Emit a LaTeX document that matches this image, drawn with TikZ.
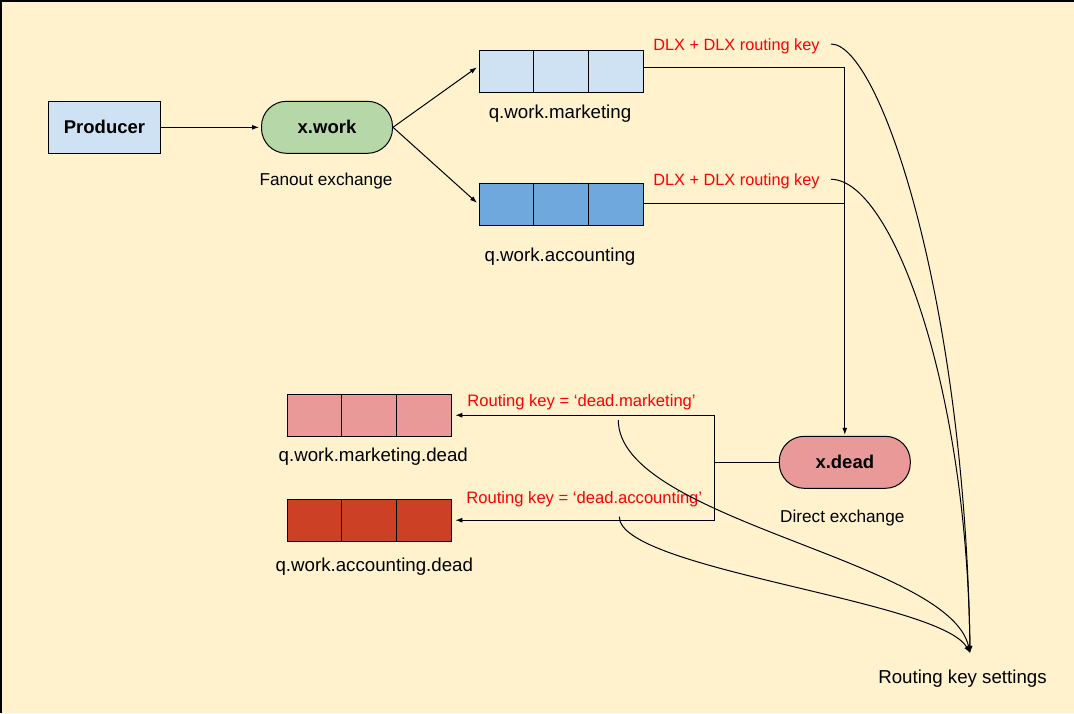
\documentclass[tikz,border=0pt]{standalone}
\usepackage{fontspec}
\setmainfont{Liberation Sans}
\usetikzlibrary{arrows.meta,calc}

\definecolor{bgyellow}{HTML}{FFF2CC}
\definecolor{lightblue}{HTML}{CFE2F3}
\definecolor{midblue}{HTML}{6FA8DC}
\definecolor{lightgreen}{HTML}{B6D7A8}
\definecolor{lightred}{HTML}{EA9999}
\definecolor{darkred}{HTML}{CC4125}
\definecolor{dlxred}{HTML}{FF0000}

\begin{document}
\begin{tikzpicture}[x=1pt, y=-1pt, line width=1pt,
    >={Latex[length=7pt,width=5pt]},
    box/.style={draw, fill=lightblue, minimum width=112pt, minimum height=52pt,
      inner sep=0pt, font=\fontsize{18.5}{22}\selectfont\bfseries},
    exch/.style={draw, rounded corners=25pt, minimum width=131pt, minimum height=52pt,
      inner sep=0pt, font=\fontsize{18.5}{22}\selectfont\bfseries},
    queue/.style={draw, minimum width=164pt, minimum height=42pt, inner sep=0pt},
    lbl/.style={inner sep=0pt, font=\fontsize{18.7}{22}\selectfont},
    exlbl/.style={inner sep=0pt, font=\fontsize{17.2}{21}\selectfont},
    redlbl/.style={inner sep=0pt, text=dlxred, font=\fontsize{16.3}{20}\selectfont}]

    % --- Canvas ---
    \useasboundingbox (0,0) rectangle (1074,713);
    \fill[bgyellow] (0,0) rectangle (1074,713);
    \draw[line width=1.5pt] (0.75,713) -- (0.75,0.75) -- (1074,0.75);

    % --- Producer and fanout exchange ---
    \node[box] (producer) at (104.5,127.3) {Producer};
    \node[exch, fill=lightgreen] (xwork) at (327,127.3) {x.work};
    \node[exlbl] (fanout) at (326,181) {Fanout exchange};

    % --- Work queues ---
    \node[queue, fill=lightblue] (qm) at (561,71.2) {};
    \node[queue, fill=midblue] (qa) at (561,204.2) {};
    \node[lbl] (qmlbl) at (560,113.7) {q.work.marketing};
    \node[lbl] (qalbl) at (560,257) {q.work.accounting};

    % --- Direct exchange ---
    \node[exch, fill=lightred] (xdead) at (844.8,462.3) {x.dead};
    \node[exlbl] (direct) at (842.3,517.7) {Direct exchange};

    % --- Dead letter queues ---
    \node[queue, fill=lightred] (qmd) at (369.3,415.2) {};
    \node[queue, fill=darkred] (qad) at (369.3,520.2) {};
    \node[lbl] (qmdlbl) at (373.3,457) {q.work.marketing.dead};
    \node[lbl] (qadlbl) at (374.3,567) {q.work.accounting.dead};

    % Splitting each queue into three cells
    \foreach \q in {qm,qa,qmd,qad}
      \foreach \i in {1,2}
        \draw ($(\q.north west)!\i/3!(\q.north east)$) -- ($(\q.south west)!\i/3!(\q.south east)$);

    % --- Red routing labels ---
    \node[redlbl] (dlxm) at (736.5,46) {DLX + DLX routing key};
    \node[redlbl] (dlxa) at (736.5,181.3) {DLX + DLX routing key};
    \node[redlbl, font=\fontsize{16.6}{20}\selectfont] (rkm) at (581.5,402) {Routing key = ‘dead.marketing’};
    \node[redlbl, font=\fontsize{16.6}{20}\selectfont] (rka) at (584.3,498.7) {Routing key = ‘dead.accounting’};

    % --- Connectors ---
    \draw[->, shorten >=2pt] (producer.east) -- (xwork.west);
    \draw[->, shorten >=2pt] (xwork.east) -- ([yshift=5pt]qm.west);
    \draw[->, shorten >=2pt] (xwork.east) -- (qa.west);
    \draw[->, shorten >=1pt] ([yshift=4pt]qm.east) -| (xdead.north);
    \draw ([yshift=1pt]qa.east) -- ([yshift=1pt]qa.east -| xdead.north);

    \coordinate (split) at (714.7,462.3);
    \draw (xdead.west) -- (split);
    \draw[->, shorten >=3.5pt] (split) |- (qmd.east);
    \draw[->, shorten >=3.5pt] (split) |- (qad.east);

    % --- Routing key settings ---
    \coordinate (rks) at (970,653);
    \node[lbl] (settings) at (962.5,678.7) {Routing key settings};
    \coordinate (fromdm) at (831,44);
    \coordinate (fromda) at (831,179.3);
    \coordinate (fromrm) at (618.3,420);
    \coordinate (fromra) at (619.3,516.7);

    \draw[->] (fromdm) .. controls +(49,0) and +(-5,-353) .. (rks);
    \draw[->] (fromda) .. controls +(60,0) and +(-3,-270) .. (rks);
    \draw[->] (fromrm) .. controls +(0,100) and +(-20,-93) .. (rks);
    \draw[->] (fromra) .. controls +(0,53) and +(-30,-53) .. (rks);

\end{tikzpicture}
\end{document}
